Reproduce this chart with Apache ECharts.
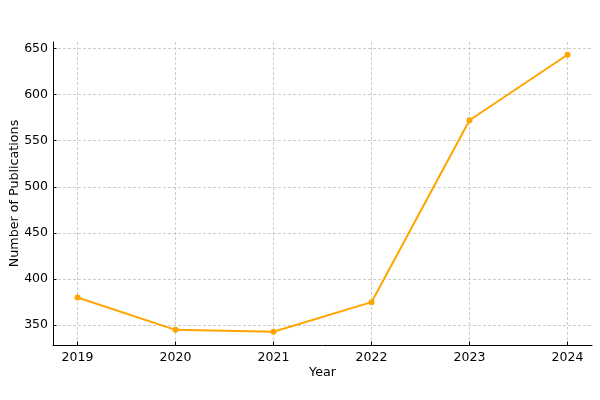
<!DOCTYPE html>
<html>
<head>
<meta charset="utf-8">
<script src="https://cdn.jsdelivr.net/npm/echarts@6/dist/echarts.min.js"></script>
<style>html,body{margin:0;padding:0;background:#fff}#c{width:600px;height:400px}</style>
</head>
<body>
<div id="c"></div>
<script>
const years = [2019, 2020, 2021, 2022, 2023, 2024];
const publications = [380, 345, 343, 375, 572, 643];
const yTicks = [350, 400, 450, 500, 550, 600, 650];

const chart = echarts.init(document.getElementById('c'), null, {renderer: 'canvas'});
const font = 'DejaVu Sans';
chart.setOption({
  animation: false,
  backgroundColor: '#fff',
  grid: {left: 53, right: 8, top: 42, bottom: 55, containLabel: false, outerBoundsMode: 'none'},
  xAxis: {
    type: 'value', min: 2018.75, max: 2024.25,
    name: 'Year', nameLocation: 'middle', nameGap: 21, nameMoveOverlap: false,
    nameTextStyle: {color: '#000', fontFamily: font, fontSize: 12.7},
    axisLine: {show: true, onZero: false, lineStyle: {color: '#000', width: 1}},
    axisTick: {show: true, inside: true, length: 3.5, customValues: years, lineStyle: {color: '#000'}},
    axisLabel: {customValues: years, color: '#000', fontFamily: font, fontSize: 12.5, margin: 6, formatter: v => String(v)},
    splitLine: {show: true, lineStyle: {color: '#c0c0c0', type: [3, 2], width: 0.8}}
  },
  yAxis: {
    type: 'value', min: 328.6, max: 656.8,
    name: 'Number of Publications', nameLocation: 'middle', nameGap: 32, nameRotate: 90, nameMoveOverlap: false,
    nameTextStyle: {color: '#000', fontFamily: font, fontSize: 12.7},
    axisLine: {show: true, onZero: false, lineStyle: {color: '#000', width: 1}},
    axisTick: {show: true, inside: true, length: 3.5, customValues: yTicks, lineStyle: {color: '#000'}},
    axisLabel: {customValues: yTicks, color: '#000', fontFamily: font, fontSize: 12.5, margin: 5},
    splitLine: {show: true, lineStyle: {color: '#c0c0c0', type: [3, 2], width: 0.8}}
  },
  series: [{
    type: 'line',
    data: years.map((y, i) => [y, publications[i]]),
    symbol: 'circle', symbolSize: 6,
    itemStyle: {color: '#FFA500'},
    lineStyle: {color: '#FFA500', width: 2}
  }]
});
</script>
</body>
</html>
